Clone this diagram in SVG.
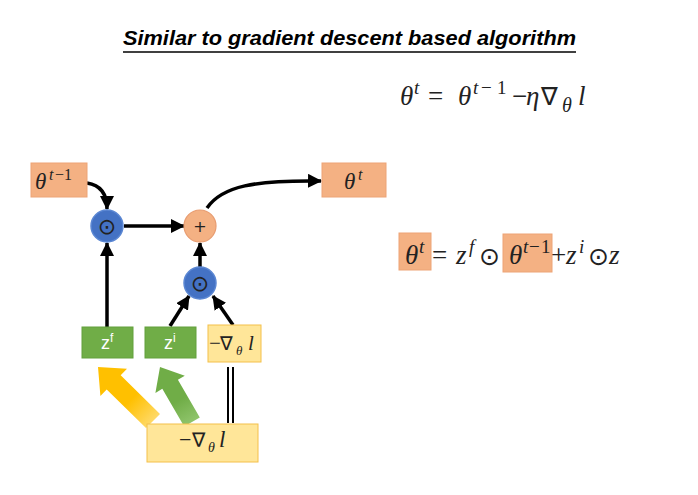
<svg xmlns="http://www.w3.org/2000/svg" width="698" height="495" viewBox="0 0 698 495">
<style>
.title{font-family:"Liberation Sans",Arial,sans-serif;font-weight:bold;font-style:italic;font-size:20px;fill:#000}
.m{font-family:"Liberation Serif","DejaVu Serif",serif;font-style:italic;fill:#222}
.u{font-family:"Liberation Serif","DejaVu Serif",serif;fill:#222}
.sym{font-family:"DejaVu Sans",sans-serif;fill:#222}
.big{font-size:27px}
.sup{font-size:19px}
.salmon{fill:#F4B183;stroke:#EDA476;stroke-width:1}
.green{fill:#70AD47;stroke:#63A03D;stroke-width:1}
.yellow{fill:#FFE699;stroke:#F4C04A;stroke-width:1}
.blue{fill:#4472C4;stroke:#5B87D3;stroke-width:1.5}
.plus{fill:#F4B183;stroke:#E89C70;stroke-width:1.2}
.conn{fill:none;stroke:#000;stroke-width:3.5}
.zt{font-family:"Liberation Sans",Arial,sans-serif;fill:#fff;font-size:18px}
</style>
<defs>
<marker id="ah" markerUnits="userSpaceOnUse" markerWidth="14" markerHeight="14" viewBox="0 0 14 14" refX="13" refY="7" orient="auto">
<path d="M0,0 L14,7 L0,14 Z" fill="#000"/>
</marker>
<linearGradient id="gy" gradientUnits="userSpaceOnUse" x1="153" y1="421" x2="98" y2="367">
<stop offset="0" stop-color="#FFD966"/><stop offset="0.4" stop-color="#FFC000"/><stop offset="1" stop-color="#FFC000"/>
</linearGradient>
<linearGradient id="gg" gradientUnits="userSpaceOnUse" x1="192" y1="422" x2="160" y2="367">
<stop offset="0" stop-color="#8FC46B"/><stop offset="0.4" stop-color="#70AD47"/><stop offset="1" stop-color="#70AD47"/>
</linearGradient>
</defs>
<rect width="698" height="495" fill="#fff"/>

<g id="title">
<text class="title" x="123" y="45" textLength="453" lengthAdjust="spacingAndGlyphs">Similar to gradient descent based algorithm</text>
<line x1="123" y1="52" x2="576" y2="52" stroke="#000" stroke-width="1.5"/>
</g>

<g id="eq1">
<text class="m big" x="400" y="105">θ</text>
<text class="m sup" x="414" y="94">t</text>
<text class="u big" x="428" y="105">=</text>
<text class="m big" x="458" y="105">θ</text>
<text class="m sup" x="473" y="94">t</text>
<text class="u sup" x="481" y="94">−</text>
<text class="u sup" x="497" y="94">1</text>
<text class="u big" x="512" y="105">−</text>
<text class="m big" x="526" y="105">η</text>
<text class="sym" font-size="25" x="541" y="105">∇</text>
<text class="m" font-size="20" x="562" y="112">θ</text>
<text class="m big" x="578" y="105">l</text>
</g>

<g id="eq2">
<rect class="salmon" x="399" y="233" width="32" height="37"/>
<rect class="salmon" x="503" y="234" width="49" height="38"/>
<text class="m big" x="405" y="264">θ</text>
<text class="m sup" x="419" y="253">t</text>
<text class="u big" x="432" y="264">=</text>
<text class="m big" x="456" y="264">z</text>
<text class="m sup" x="469" y="253">f</text>
<text class="sym" font-size="25" x="479" y="265">⊙</text>
<text class="m big" x="509" y="264">θ</text>
<text class="m sup" x="523" y="253">t</text>
<text class="u sup" x="529" y="253">−</text>
<text class="u sup" x="541" y="253">1</text>
<text class="u big" x="551" y="264">+</text>
<text class="m big" x="566" y="264">z</text>
<text class="m sup" x="579" y="253">i</text>
<text class="sym" font-size="25" x="588" y="265">⊙</text>
<text class="m big" x="609" y="264">z</text>
</g>

<g id="block-arrows">
<polygon fill="url(#gy)" points="160,413.9 120.7,375.3 127,368.8 98,367 100.4,396 106.7,389.5 146,428.1"/>
<polygon fill="url(#gg)" points="199.8,417.5 177.9,379.8 184.8,375.7 160,367 155.4,392.9 162.3,388.8 184.2,426.5"/>
</g>

<g id="connectors">
<path class="conn" d="M87,183 Q107,186 107,209" marker-end="url(#ah)"/>
<path class="conn" d="M124,226 L184,226" marker-end="url(#ah)"/>
<path class="conn" d="M207,208 C222,186 255,180 321,181" marker-end="url(#ah)"/>
<path class="conn" d="M200,267 L200,243" marker-end="url(#ah)"/>
<path class="conn" d="M107,327 L107,243" marker-end="url(#ah)"/>
<path class="conn" d="M170,326 L189,296" marker-end="url(#ah)"/>
<path class="conn" d="M233,325 L213,296" marker-end="url(#ah)"/>
<line x1="228" y1="367" x2="228" y2="423" stroke="#000" stroke-width="2"/>
<line x1="233" y1="367" x2="233" y2="423" stroke="#000" stroke-width="2"/>
</g>

<g id="theta-prev">
<rect class="salmon" x="31" y="163" width="56" height="34"/>
<text class="m" font-size="23" x="35" y="189">θ</text>
<text class="m" font-size="16" x="49" y="180">t</text>
<text class="u" font-size="16" x="55" y="180">−1</text>
</g>

<g id="theta-t">
<rect class="salmon" x="322" y="163" width="64" height="34"/>
<text class="m" font-size="23" x="344" y="189">θ</text>
<text class="m" font-size="16" x="358" y="180">t</text>
</g>

<g id="hadamard1">
<circle class="blue" cx="107" cy="226" r="16"/>
<text class="sym" font-size="22" x="107" y="234" text-anchor="middle" fill="#111">⊙</text>
</g>

<g id="plus">
<circle class="plus" cx="200" cy="226" r="16"/>
<text class="sym" font-size="16" x="200" y="232" text-anchor="middle" fill="#333">+</text>
</g>

<g id="hadamard2">
<circle class="blue" cx="200" cy="283" r="16"/>
<text class="sym" font-size="22" x="200" y="291" text-anchor="middle" fill="#111">⊙</text>
</g>

<g id="zf">
<rect class="green" x="82" y="327" width="51" height="31"/>
<text class="zt" x="101" y="349">z<tspan font-size="12" dy="-7">f</tspan></text>
</g>

<g id="zi">
<rect class="green" x="145" y="327" width="51" height="31"/>
<text class="zt" x="164" y="349">z<tspan font-size="12" dy="-7">i</tspan></text>
</g>

<g id="grad-small">
<rect class="yellow" x="208" y="325" width="53" height="37"/>
<text class="u" font-size="21" x="209" y="350">−</text>
<text class="sym" font-size="19" x="220" y="350">∇</text>
<text class="m" font-size="13" x="236" y="355">θ</text>
<text class="m" font-size="21" x="248" y="350">l</text>
</g>

<g id="grad-big">
<rect class="yellow" x="147" y="424" width="111" height="38"/>
<text class="u" font-size="22" x="179" y="447">−</text>
<text class="sym" font-size="20" x="192" y="447">∇</text>
<text class="m" font-size="14" x="208" y="452">θ</text>
<text class="m" font-size="23" x="219" y="447">l</text>
</g>
</svg>
